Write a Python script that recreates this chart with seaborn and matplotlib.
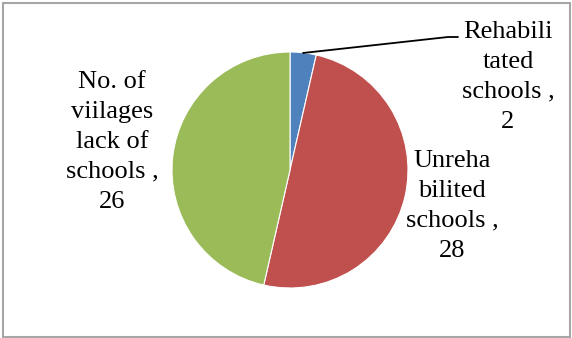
import matplotlib
matplotlib.use("Agg")
import matplotlib.pyplot as plt
import seaborn as sns
from matplotlib.patches import Rectangle

# Data
categories = ["Rehabili\ntated\nschools ,", "Unreha\nbilited\nschools ,",
              "No. of\nviilages\nlack of\nschools ,"]
values = [2, 28, 26]
colors = ["#4F81BD", "#C0504D", "#9BBB59"]

# label anchors in pixel coords (x, y from top)
label_pos = [(508, 77), (452, 206), (112, 142)]

sns.set_theme(style="white")
plt.rcParams["font.family"] = ["Liberation Serif", "DejaVu Serif"]

W, H = 572, 338
fig = plt.figure(figsize=(W / 100, H / 100), dpi=100)
ax = fig.add_axes([0, 0, 1, 1])

wedges, _ = ax.pie(values, colors=colors, startangle=90, counterclock=False,
                   center=(290, H - 170), radius=118,
                   wedgeprops=dict(linewidth=0.8, edgecolor="white"))
ax.set_xlim(0, W)
ax.set_ylim(0, H)
ax.set_aspect("equal")
ax.axis("off")

for cat, val, (x, y) in zip(categories, values, label_pos):
    ax.text(x, H - y, f"{cat}\n{val}", ha="center", va="center",
            fontsize=19, color="black", linespacing=1.46)

# leader line for the small slice
ax.plot([303, 448, 458], [H - 53, H - 37, H - 37], color="black", lw=1.3)

# chart border
fig.patches.append(Rectangle((3 / W, 1 / H), (W - 5) / W, (H - 4) / H,
                             transform=fig.transFigure, fill=False,
                             edgecolor="#A6A6A6", linewidth=1.5))

fig.savefig("out.png", dpi=100)
